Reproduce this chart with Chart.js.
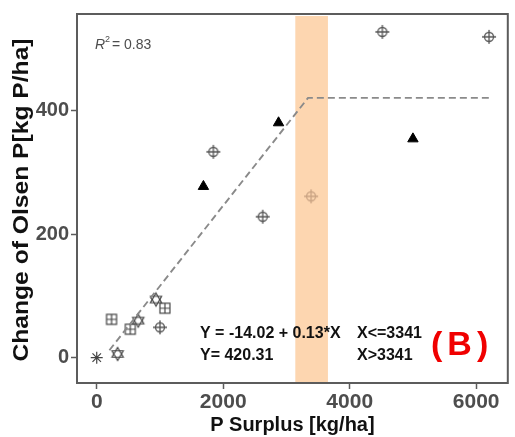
<!DOCTYPE html>
<html>
<head>
<meta charset="utf-8">
<script src="https://cdn.jsdelivr.net/npm/chart.js@4.4.1/dist/chart.umd.min.js"></script>
<style>
  html, body { margin: 0; padding: 0; background: #fff; }
</style>
</head>
<body>
<canvas id="olsenChart" width="515" height="437"></canvas>
<script>
// data
const starX = [0], starY = [0];
const hexX = [330, 656, 937], hexY = [6, 60, 94];
const sqX = [234, 531, 1078], sqY = [62, 46, 80];
const crossX = [1000, 1844, 2625, 3390, 4516, 6203];
const crossY = [49, 333, 228, 261, 527, 519];
const triX = [1687, 2875, 5000], triY = [277, 380, 354];
const fitX = [200, 3341, 6200], fitY = [12, 420.31, 420.31];
const bandX = [3140, 3656];
const xTicks = [0, 2000, 4000, 6000];
const yTicks = [0, 200, 400];

const toPts = (xs, ys) => xs.map((x, i) => ({ x: x, y: ys[i] }));

// small canvases used as point styles
const makeMarker = (size, draw) => {
    const c = document.createElement('canvas');
    c.width = size; c.height = size;
    const g = c.getContext('2d');
    g.translate(size / 2, size / 2);
    draw(g);
    return c;
};
const crossMark = (col) => makeMarker(16, g => {
    g.strokeStyle = col; g.lineWidth = 1.3;
    g.beginPath(); g.arc(0, 0, 4.5, 0, Math.PI * 2); g.stroke();
    g.beginPath();
    g.moveTo(-7, 0); g.lineTo(7, 0);
    g.moveTo(0, -7); g.lineTo(0, 7);
    g.stroke();
});
const crossDark = crossMark('#555');
const crossFaded = crossMark('#c9a383');
const sqMark = makeMarker(14, g => {
    g.strokeStyle = '#444'; g.lineWidth = 1.2;
    g.strokeRect(-5, -5, 10, 10);
    g.beginPath();
    g.moveTo(-5, 0); g.lineTo(5, 0);
    g.moveTo(0, -5); g.lineTo(0, 5);
    g.stroke();
});
const hexMark = makeMarker(18, g => {
    g.strokeStyle = '#444'; g.lineWidth = 1.2;
    [-Math.PI / 2, Math.PI / 2].forEach(a0 => {
        g.beginPath();
        for (let k = 0; k < 3; k++) {
            const a = a0 + k * 2 * Math.PI / 3;
            const px = 6.5 * Math.cos(a), py = 6.5 * Math.sin(a);
            if (k === 0) g.moveTo(px, py); else g.lineTo(px, py);
        }
        g.closePath(); g.stroke();
    });
});

const decorPlugin = {
    id: 'decor',
    beforeDatasetsDraw(chart) {
        const { ctx, chartArea: a, scales: { x } } = chart;
        const x0 = x.getPixelForValue(bandX[0]), x1 = x.getPixelForValue(bandX[1]);
        ctx.save();
        ctx.fillStyle = '#fdd6b0';
        ctx.fillRect(x0, a.top + 2, x1 - x0, a.bottom - a.top - 2);
        ctx.restore();
    },
    afterDraw(chart) {
        const { ctx, chartArea: a } = chart;
        ctx.save();
        ctx.strokeStyle = '#5c5c5c';
        ctx.lineWidth = 2;
        ctx.strokeRect(a.left, a.top, a.right - a.left, a.bottom - a.top);

        // y axis title, a bit stretched like the source
        ctx.save();
        ctx.translate(28, 200);
        ctx.rotate(-Math.PI / 2);
        ctx.scale(1.12, 1);
        ctx.fillStyle = '#111';
        ctx.font = 'bold 22px "Liberation Sans"';
        ctx.textAlign = 'center';
        ctx.textBaseline = 'alphabetic';
        ctx.fillText('Change of Olsen P[kg P/ha]', 0, 0);
        ctx.restore();

        // R^2 label
        ctx.fillStyle = '#4d4d4d';
        ctx.textBaseline = 'alphabetic';
        ctx.font = 'italic 14px "Liberation Sans"';
        ctx.fillText('R', 95, 49);
        ctx.font = '9px "Liberation Sans"';
        ctx.fillText('2', 105, 42);
        ctx.font = '14px "Liberation Sans"';
        ctx.fillText('= 0.83', 112, 49);

        // equation
        ctx.fillStyle = '#111';
        ctx.font = 'bold 16px "Liberation Sans"';
        ctx.fillText('Y = -14.02 + 0.13*X', 200, 338);
        ctx.fillText('Y= 420.31', 200, 360);
        ctx.fillText('X<=3341', 357, 338);
        ctx.fillText('X>3341', 357, 360);

        ctx.fillStyle = '#f00000';
        ctx.font = 'bold 34px "Liberation Sans"';
        ctx.letterSpacing = '5px';
        ctx.fillText('(B)', 431, 355);
        ctx.restore();
    }
};

new Chart(document.getElementById('olsenChart'), {
    type: 'scatter',
    data: {
        datasets: [
            { type: 'line', data: toPts(fitX, fitY), borderColor: '#8a8a8a', borderWidth: 1.9,
              borderDash: [7, 4], pointRadius: 0, fill: false, tension: 0 },
            { data: toPts(starX, starY), pointStyle: 'star', radius: 6,
              borderColor: '#444', borderWidth: 1.2 },
            { data: toPts(hexX, hexY), pointStyle: hexMark },
            { data: toPts(sqX, sqY), pointStyle: sqMark },
            { data: toPts(crossX, crossY),
              pointStyle: (c) => (crossX[c.dataIndex] === 3390 ? crossFaded : crossDark) },
            { data: toPts(triX, triY), pointStyle: 'triangle', radius: 6,
              backgroundColor: '#000', borderColor: '#000', borderWidth: 1 }
        ]
    },
    options: {
        responsive: false,
        animation: false,
        layout: { padding: { top: 8, right: 2, left: 0, bottom: 0 } },
        plugins: { legend: { display: false }, tooltip: { enabled: false } },
        scales: {
            x: {
                type: 'linear', min: -312, max: 6500,
                afterBuildTicks: s => { s.ticks = xTicks.map(v => ({ value: v })); },
                afterFit: s => { s.height = 54; },
                grid: { drawOnChartArea: false, tickLength: 6, tickColor: '#5c5c5c', tickWidth: 1.5 },
                border: { display: false },
                ticks: { font: { family: '"Liberation Sans"', size: 21, weight: 'bold' }, color: '#4d4d4d',
                         padding: 1, maxRotation: 0, callback: v => String(v) },
                title: { display: true, text: 'P Surplus [kg/ha]',
                         font: { family: '"Liberation Sans"', size: 20, weight: 'bold' }, color: '#111',
                         padding: { top: 0, bottom: 0 } }
            },
            y: {
                type: 'linear', min: -41, max: 556,
                afterBuildTicks: s => { s.ticks = yTicks.map(v => ({ value: v })); },
                afterFit: s => { s.width = 77; },
                grid: { drawOnChartArea: false, tickLength: 6, tickColor: '#5c5c5c', tickWidth: 1.5 },
                border: { display: false },
                ticks: { font: { family: '"Liberation Sans"', size: 20, weight: 'bold' }, color: '#4d4d4d',
                         padding: 2, callback: v => String(v) },
                title: { display: false }
            }
        }
    },
    plugins: [decorPlugin]
});
</script>
</body>
</html>
